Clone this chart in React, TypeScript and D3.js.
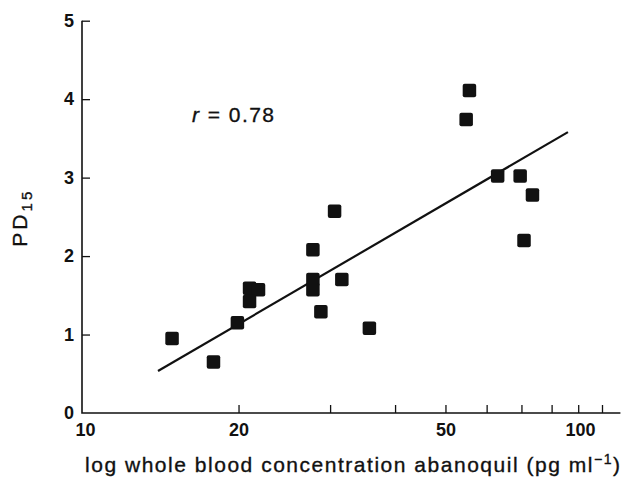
import React, { useEffect, useRef } from "react";
import * as d3 from "d3";

// whole blood concentration (pg/ml) vs PD15
const concentration = [14.9, 17.9, 19.9, 21.0, 21.85, 21.0, 27.8, 27.8, 27.8, 31.6, 28.8, 35.7, 30.6, 55.6, 54.8, 63.0, 69.6, 73.5, 70.8];
const pd15 = [0.95, 0.65, 1.15, 1.59, 1.57, 1.42, 2.08, 1.7, 1.57, 1.7, 1.29, 1.08, 2.57, 4.11, 3.74, 3.02, 3.02, 2.78, 2.2];

// regression line end points
const fitX = [14, 86];
const fitY = [0.535, 3.58];

const xTicks = [10, 20, 30, 40, 50, 60, 70, 80, 90, 100];
const xTickLabels = ["10", "20", "", "", "50", "", "", "", "", "100"];
const yTicks = [0, 1, 2, 3, 4, 5];

const width = 622;
const height = 477;
const ink = "#111";
const font = "'Liberation Sans', Arial, sans-serif";

const App = () => {
  const svgRef = useRef<SVGSVGElement | null>(null);

  const x = d3.scaleLog().domain([10, 100]).range([82, 602]);
  const y = d3.scaleLinear().domain([0, 5]).range([413, 20.7]);
  const xEnd = 108.5;

  useEffect(() => {
    const svg = d3.select(svgRef.current);

    const xAxis = d3
      .axisBottom(x)
      .tickValues(xTicks)
      .tickSize(-8)
      .tickSizeOuter(0)
      .tickPadding(10)
      .tickFormat((d: any, i: number) => xTickLabels[i]);
    const gx = svg.select<SVGGElement>(".x-axis").attr("transform", `translate(0, ${y(0)})`).call(xAxis as any);
    gx.select(".domain").remove();
    gx.selectAll(".tick line").attr("stroke", ink).attr("stroke-width", 1.3);
    gx.selectAll(".tick text")
      .attr("font-family", font)
      .attr("font-size", 18)
      .attr("font-weight", "bold")
      .attr("fill", ink)
      // the "100" label sits left of its tick in the original
      .attr("dx", (d: any) => (d === 100 ? -22 : d === 10 ? 3 : 0));
    gx.selectAll(".tick").filter((d: any) => d === 10).select("line").remove();

    const yAxis = d3.axisLeft(y).tickValues(yTicks).tickSize(-8).tickSizeOuter(0).tickPadding(8).tickFormat(d3.format("d"));
    const gy = svg.select<SVGGElement>(".y-axis").attr("transform", `translate(${x(10)}, 0)`).call(yAxis as any);
    gy.select(".domain").remove();
    gy.selectAll(".tick line").attr("stroke", ink).attr("stroke-width", 1.3);
    gy.selectAll(".tick text")
      .attr("font-family", font)
      .attr("font-size", 18)
      .attr("font-weight", "bold")
      .attr("fill", ink);
    gy.selectAll(".tick").filter((d: any) => d === 0).select("line").remove();
  }, []);

  const line = d3
    .line<number>()
    .x((d) => x(d))
    .y((d, i) => y(fitY[i]));

  const size = 13.5;

  return (
    <svg
      ref={svgRef}
      width={width}
      height={height}
      style={{ position: "absolute", left: 0, top: 0, background: "#fff" }}
    >
      <g className="x-axis" />
      <g className="y-axis" />
      <path
        d={`M${x(10)},${y(5)}V${y(0)}H${x(xEnd)}`}
        fill="none"
        stroke={ink}
        strokeWidth={1.6}
      />
      <path d={line(fitX) || ""} fill="none" stroke={ink} strokeWidth={2.2} />
      {concentration.map((c, i) => (
        <rect
          key={i}
          x={x(c) - size / 2}
          y={y(pd15[i]) - size / 2}
          width={size}
          height={size}
          rx={2}
          fill={ink}
        />
      ))}
      <text x={192} y={122} fontFamily={font} fontSize={21} fill={ink} stroke={ink} strokeWidth={0.35} textLength={82} lengthAdjust="spacing">
        <tspan fontStyle="italic">r</tspan> = 0.78
      </text>
      <text
        transform="translate(27, 246.7) rotate(-90)"
        fontFamily={font}
        fontSize={21}
        fill={ink}
        stroke={ink}
        strokeWidth={0.35}
        textLength={55}
        lengthAdjust="spacing"
      >
        PD<tspan fontSize={15} dy={5}>15</tspan>
      </text>
      <text x={85} y={472} fontFamily={font} fontSize={21} fill={ink} stroke={ink} strokeWidth={0.35} textLength={535} lengthAdjust="spacing">
        log whole blood concentration abanoquil (pg ml<tspan fontSize={14} dy={-8}>−1</tspan>
        <tspan dy={8}>)</tspan>
      </text>
    </svg>
  );
};

export default App;
